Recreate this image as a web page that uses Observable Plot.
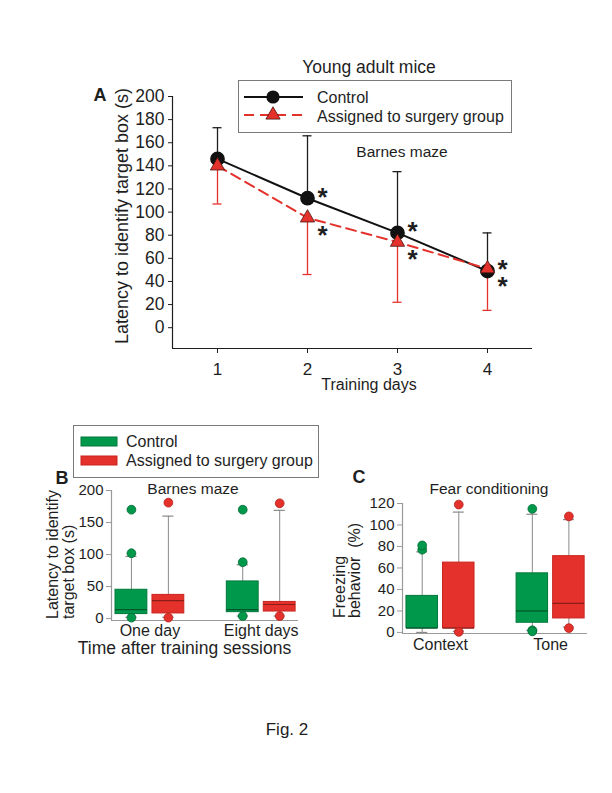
<!DOCTYPE html>
<html><head><meta charset="utf-8">
<script src="https://cdn.jsdelivr.net/npm/d3@7"></script>
<script src="https://cdn.jsdelivr.net/npm/@observablehq/plot@0.6"></script>
<style>
body{margin:0;background:#fff;}
#page{position:relative;width:612px;height:793px;overflow:hidden;background:#fff;font-family:"Liberation Sans",Arial,sans-serif;}
#page svg{position:absolute;overflow:visible;}
</style></head><body><div id="page"></div>
<script>
// ---------- Panel A data (Barnes maze, training days) ----------
const daysA = [1, 2, 3, 4];
const controlMeanA = [146, 112, 82, 49];
const controlUpperA = [173, 166, 135, 82];
const surgeryMeanA = [140, 95, 74, 51];
const surgeryLowerA = [107, 46, 22, 15];
const significantA = [false, true, true, true];
const yTicksA = [0, 20, 40, 60, 80, 100, 120, 140, 160, 180, 200];
const seriesNames = ["Control", "Assigned to surgery group"];

// ---------- Panel B data (Barnes maze, boxes) ----------
const groupsB = ["One day", "Eight days"];
const boxesB = [
  {group: 0, series: 0, low: 2, q1: 7, median: 14, q3: 45, high: 97},
  {group: 0, series: 1, low: 2, q1: 8, median: 28, q3: 37, high: 160},
  {group: 1, series: 0, low: 4, q1: 10, median: 14, q3: 58, high: 84},
  {group: 1, series: 1, low: 4, q1: 11, median: 22, q3: 26, high: 169}
];
const outliersB = [
  {group: 0, series: 0, value: 102}, {group: 0, series: 0, value: 170}, {group: 0, series: 0, value: 1.5},
  {group: 0, series: 1, value: 181}, {group: 0, series: 1, value: 1.5},
  {group: 1, series: 0, value: 88}, {group: 1, series: 0, value: 170}, {group: 1, series: 0, value: 4},
  {group: 1, series: 1, value: 180}, {group: 1, series: 1, value: 4}
];
const yTicksB = [0, 50, 100, 150, 200];

// ---------- Panel C data (Fear conditioning) ----------
const groupsC = ["Context", "Tone"];
const boxesC = [
  {group: 0, series: 0, low: 0, q1: 4, median: 4, q3: 34, high: 75},
  {group: 0, series: 1, low: 1, q1: 4, median: 4, q3: 65, high: 112},
  {group: 1, series: 0, low: 2, q1: 9, median: 20, q3: 55, high: 110},
  {group: 1, series: 1, low: 5, q1: 13, median: 27, q3: 71, high: 105}
];
const outliersC = [
  {group: 0, series: 0, value: 77}, {group: 0, series: 0, value: 81},
  {group: 0, series: 1, value: 119}, {group: 0, series: 1, value: 0.5},
  {group: 1, series: 0, value: 115}, {group: 1, series: 0, value: 2}, {group: 1, series: 0, value: 1},
  {group: 1, series: 1, value: 108}, {group: 1, series: 1, value: 4}
];
const yTicksC = [0, 20, 40, 60, 80, 100, 120];

// ---------- styles ----------
const FONT = "Liberation Sans, Arial, sans-serif";
const INK = "#1e1e1e";
const RED = "#e4312b";
const GREEN = "#00984a";
const boxFill = [GREEN, RED];
const boxStroke = ["#00773a", "#c9251f"];
const medianStroke = ["#00552a", "#8c1d16"];
const dotStroke = ["#006a33", "#b3201a"];
const axisGray = "#9a9a9a";
const whiskerGray = "#8a8a8a";

const page = document.getElementById("page");

// ---------- Panel A ----------
const rowsControl = daysA.map((d, i) => ({day: d, mean: controlMeanA[i], bar: controlUpperA[i], sig: significantA[i]}));
const rowsSurgery = daysA.map((d, i) => ({day: d, mean: surgeryMeanA[i], bar: surgeryLowerA[i], sig: significantA[i]}));
const xDomA = [0.5, 4.5];
const yDomA = [-18, 200];
const capA = 0.05;

const plotA = Plot.plot({
  width: 612, height: 400,
  marginLeft: 172, marginRight: 80, marginTop: 96, marginBottom: 52,
  x: {domain: xDomA},
  y: {domain: yDomA},
  style: {fontFamily: FONT, fontSize: "17px", color: INK, background: "transparent", overflow: "visible"},
  marks: [
    Plot.ruleX([xDomA[0]], {y1: yDomA[0], y2: yTicksA[yTicksA.length - 1], stroke: INK, strokeWidth: 1.2}),
    Plot.ruleY([yDomA[0]], {x1: xDomA[0], x2: xDomA[1], stroke: INK, strokeWidth: 1.2}),
    Plot.axisY(yTicksA, {tickSize: 4, tickPadding: 4, label: null, fontSize: 17.5, fill: INK, stroke: INK, style: "letter-spacing:1.5px"}),
    Plot.axisX(daysA, {tickSize: 5, tickPadding: 9, label: null, fontSize: 17, fill: INK, stroke: INK}),
    // error bars
    Plot.ruleX(rowsControl, {x: "day", y1: "mean", y2: "bar", stroke: INK, strokeWidth: 1.3}),
    Plot.ruleY(rowsControl, {y: "bar", x1: d => d.day - capA, x2: d => d.day + capA, stroke: INK, strokeWidth: 1.3}),
    Plot.ruleX(rowsSurgery, {x: "day", y1: "mean", y2: "bar", stroke: RED, strokeWidth: 1.3}),
    Plot.ruleY(rowsSurgery, {y: "bar", x1: d => d.day - capA, x2: d => d.day + capA, stroke: RED, strokeWidth: 1.3}),
    // lines
    Plot.line(rowsControl, {x: "day", y: "mean", stroke: "#111", strokeWidth: 2}),
    Plot.line(rowsSurgery, {x: "day", y: "mean", stroke: RED, strokeWidth: 2, strokeDasharray: "10,6"}),
    // markers
    Plot.dot(rowsControl, {x: "day", y: "mean", r: 6.6, fill: "#111", stroke: "#111"}),
    Plot.dot(rowsSurgery, {x: "day", y: "mean", r: 5.3, symbol: "triangle", fill: RED, stroke: "#4a1510", strokeWidth: 0.8}),
    // significance
    Plot.text(rowsControl.filter(d => d.sig), {x: "day", y: "mean", text: () => "*", dx: 15, dy: -1, fontSize: 26, fontWeight: "bold", fill: INK}),
    Plot.text(rowsSurgery.filter(d => d.sig), {x: "day", y: "mean", text: () => "*", dx: 15, dy: 17.5, fontSize: 26, fontWeight: "bold", fill: INK})
  ]
});
plotA.style.left = "0px"; plotA.style.top = "0px";
page.appendChild(plotA);

// ---------- box plots B and C ----------
const xDomBC = [0.655, 2.335];
const offBC = 0.166, halfBox = 0.143, capBC = 0.05;
function boxPanel({boxes, outliers, groups, yDomain, yTicks, width, height, margins, tickPad}) {
  const pos = d => d.group + 1 + (d.series ? offBC : -offBC);
  const marks = [
    Plot.ruleX([xDomBC[0]], {y1: yDomain[0], y2: yTicks[yTicks.length - 1], stroke: axisGray, strokeWidth: 1.2}),
    Plot.ruleY([yDomain[0]], {x1: xDomBC[0], x2: xDomBC[1], stroke: axisGray, strokeWidth: 1.2}),
    Plot.axisY(yTicks, {tickSize: 5, tickPadding: 3, label: null, fontSize: 15, fill: INK, stroke: axisGray}),
    Plot.axisX([1, 2], {tickSize: 0, tickPadding: tickPad, label: null, fontSize: 16, fill: INK, tickFormat: i => groups[i - 1]}),
    Plot.ruleX(boxes, {x: pos, y1: "q3", y2: "high", stroke: whiskerGray, strokeWidth: 1}),
    Plot.ruleX(boxes, {x: pos, y1: "low", y2: "q1", stroke: whiskerGray, strokeWidth: 1}),
    Plot.ruleY(boxes, {y: "high", x1: d => pos(d) - capBC, x2: d => pos(d) + capBC, stroke: whiskerGray, strokeWidth: 1.2}),
    Plot.ruleY(boxes, {y: "low", x1: d => pos(d) - capBC, x2: d => pos(d) + capBC, stroke: whiskerGray, strokeWidth: 1.2})
  ];
  for (const s of [0, 1]) {
    const b = boxes.filter(d => d.series === s);
    const o = outliers.filter(d => d.series === s);
    marks.push(
      Plot.rect(b, {x1: d => pos(d) - halfBox, x2: d => pos(d) + halfBox, y1: "q1", y2: "q3", fill: boxFill[s], stroke: boxStroke[s], strokeWidth: 1}),
      Plot.ruleY(b, {y: "median", x1: d => pos(d) - halfBox, x2: d => pos(d) + halfBox, stroke: medianStroke[s], strokeWidth: 1.2}),
      Plot.dot(o, {x: pos, y: "value", r: 4.4, fill: boxFill[s], stroke: dotStroke[s], strokeWidth: 0.8})
    );
  }
  return Plot.plot({
    width, height, ...margins,
    x: {domain: xDomBC},
    y: {domain: yDomain},
    style: {fontFamily: FONT, fontSize: "15px", color: INK, background: "transparent", overflow: "visible"},
    marks
  });
}

const plotB = boxPanel({boxes: boxesB, outliers: outliersB, groups: groupsB, yDomain: [-3, 200], yTicks: yTicksB,
  width: 320, height: 190, margins: {marginLeft: 111, marginRight: 22, marginTop: 20, marginBottom: 40}, tickPad: 4});
plotB.style.left = "0px"; plotB.style.top = "470px";
page.appendChild(plotB);

const plotC = boxPanel({boxes: boxesC, outliers: outliersC, groups: groupsC, yDomain: [-1, 120], yTicks: yTicksC,
  width: 282, height: 190, margins: {marginLeft: 72, marginRight: 25, marginTop: 23, marginBottom: 37}, tickPad: 5});
plotC.style.left = "330px"; plotC.style.top = "480px";
page.appendChild(plotC);

// ---------- overlay: titles, labels, legends ----------
const ov = d3.select(page).append("svg").attr("width", 612).attr("height", 793).style("left", "0px").style("top", "0px")
  .attr("font-family", FONT).attr("fill", INK);
function txt(s, x, y, size, o = {}) {
  const t = ov.append("text").attr("x", x).attr("y", y).attr("font-size", size)
    .attr("text-anchor", o.anchor || "middle").attr("dominant-baseline", "central").text(s);
  if (o.bold) t.attr("font-weight", "bold");
  if (o.rotate) t.attr("transform", `rotate(-90 ${x} ${y})`);
  return t;
}

// Panel A texts
txt("Young adult mice", 369, 67, 17.5);
txt("A", 100, 95, 18, {bold: true});
txt("Barnes maze", 402, 151, 15.5);
txt("Training days", 369, 384, 16);
txt("Latency to identify target box (s)", 122, 216, 18, {rotate: true});

// Legend A
ov.append("rect").attr("x", 238.5).attr("y", 80.5).attr("width", 273).attr("height", 52).attr("fill", "#fff").attr("stroke", "#7a7a7a");
ov.append("line").attr("x1", 244).attr("x2", 303).attr("y1", 97).attr("y2", 97).attr("stroke", "#111").attr("stroke-width", 2);
ov.append("circle").attr("cx", 273).attr("cy", 97).attr("r", 6.6).attr("fill", "#111");
ov.append("line").attr("x1", 244).attr("x2", 303).attr("y1", 115).attr("y2", 115).attr("stroke", RED).attr("stroke-width", 2).attr("stroke-dasharray", "10,6");
ov.append("path").attr("d", d3.symbol(d3.symbolTriangle, Math.PI * 5.3 * 5.3)()).attr("transform", "translate(273,115)")
  .attr("fill", RED).attr("stroke", "#4a1510").attr("stroke-width", 0.8);
txt(seriesNames[0], 317, 97, 16, {anchor: "start"});
txt(seriesNames[1], 317, 116, 16, {anchor: "start"});

// Legend B
ov.append("rect").attr("x", 73.5).attr("y", 425.5).attr("width", 245).attr("height", 52).attr("fill", "#fff").attr("stroke", "#7a7a7a");
ov.append("rect").attr("x", 81).attr("y", 437).attr("width", 36).attr("height", 9).attr("fill", GREEN).attr("stroke", boxStroke[0]);
ov.append("rect").attr("x", 81).attr("y", 456).attr("width", 36).attr("height", 9).attr("fill", RED).attr("stroke", boxStroke[1]);
txt(seriesNames[0], 126, 441, 16, {anchor: "start"});
txt(seriesNames[1], 126, 460, 16, {anchor: "start"});

// Panel B texts
txt("B", 62, 478, 18, {bold: true});
txt("Barnes maze", 193, 488, 15.5);
txt("Latency to identify", 52, 619, 16, {rotate: true, anchor: "start"});
txt("target box (s)", 68, 619, 16, {rotate: true, anchor: "start"});
txt("Time after training sessions", 184.5, 648, 17.5);

// Panel C texts
txt("C", 359, 477, 18, {bold: true});
txt("Fear conditioning", 489, 488, 15.5);
txt("Freezing", 339, 618, 16, {rotate: true, anchor: "start"});
txt("behavior  (%)", 354, 618, 16, {rotate: true, anchor: "start"}).attr("xml:space", "preserve").style("white-space", "pre");

// Figure caption
txt("Fig. 2", 287, 729, 17);
</script></body></html>
